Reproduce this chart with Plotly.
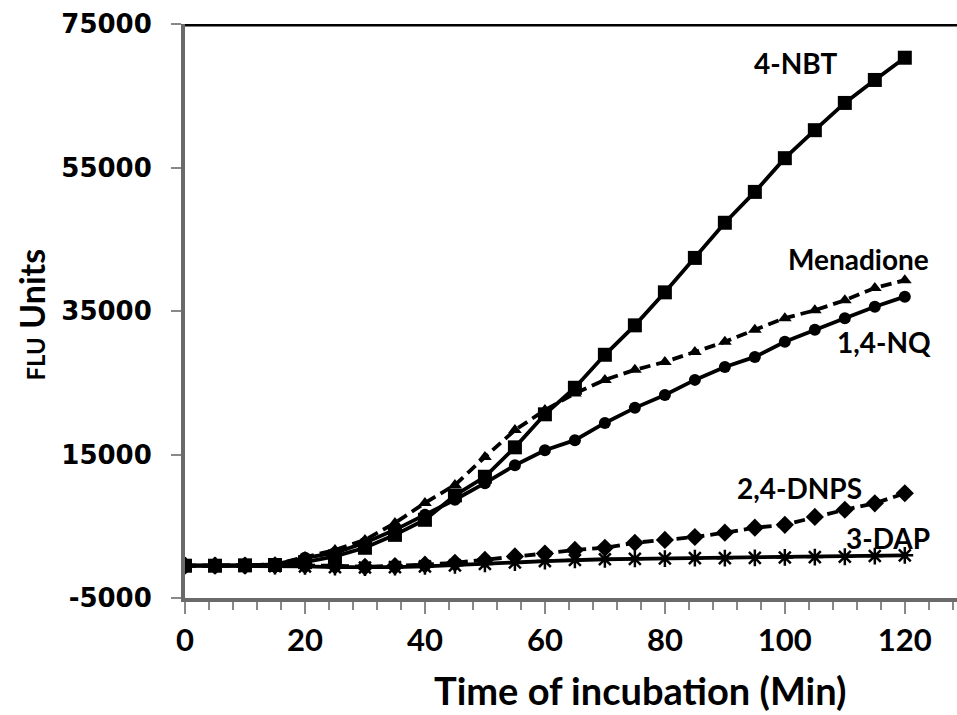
import plotly.graph_objects as go

time_min = [0, 5, 10, 15, 20, 25, 30, 35, 40, 45, 50, 55, 60, 65, 70, 75, 80, 85, 90, 95, 100, 105, 110, 115, 120]

nbt = [-500, -500, -450, -400, 0, 800, 2000, 3800, 5900, 9300, 11900, 16000, 20600, 24300, 28900,
       33000, 37600, 42400, 47300, 51600, 56300, 60200, 64000, 67200, 70300]
menadione = [-500, -500, -450, -300, 700, 1700, 3100, 5450, 8250, 10750, 14650, 18400, 21200, 23500,
             25400, 26800, 27900, 29300, 30700, 32400, 34000, 35100, 36500, 38200, 39300]
nq = [-500, -500, -450, -300, 600, 1300, 2700, 4500, 6600, 8700, 11000, 13500, 15600, 17000, 19400,
      21500, 23300, 25400, 27200, 28600, 30700, 32400, 34000, 35600, 37000]
dnps = [-500, -500, -500, -450, -450, -500, -650, -550, -350, -100, 300, 800, 1200, 1700, 2000,
        2700, 3100, 3500, 4100, 4800, 5200, 6300, 7300, 8200, 9600]
dap = [-500, -500, -500, -550, -600, -700, -750, -700, -600, -450, -250, -50, 150, 300, 400,
       450, 500, 550, 550, 600, 650, 700, 750, 850, 950]

y_ticks = [-5000, 15000, 35000, 55000, 75000]
x_ticks = [0, 20, 40, 60, 80, 100, 120]

series = [
    ("3-DAP", dap, "solid", "asterisk-open", 14),
    ("2,4-DNPS", dnps, "11px,6px", "diamond", 14),
    ("1,4-NQ", nq, "solid", "circle", 12),
    ("Menadione", menadione, "11px,6px", "triangle-up", 12),
    ("4-NBT", nbt, "solid", "square", 14),
]

fig = go.Figure()
for name, vals, dash, sym, size in series:
    mline = dict(width=2.5, color="#222") if sym == "asterisk-open" else dict(width=0)
    fig.add_trace(go.Scatter(
        x=time_min, y=vals, name=name, mode="lines+markers",
        line=dict(color="black", width=3.8, dash=dash),
        marker=dict(symbol=sym, size=size, color="black", line=mline),
        showlegend=False,
    ))

font_family = "Lato, Open Sans, sans-serif"
label_font = dict(family=font_family, size=28, color="black", weight="bold")
labels = [
    ("4-NBT", 101.8, 69500),
    ("Menadione", 112.3, 42200),
    ("1,4-NQ", 116.5, 30700),
    ("2,4-DNPS", 102.5, 10300),
    ("3-DAP", 117.2, 3300),
]
for text, x, y in labels:
    fig.add_annotation(x=x, y=y, text=text, showarrow=False, font=label_font,
                       xanchor="center", yanchor="middle")

# top border line
fig.add_shape(type="line", xref="paper", yref="y", x0=0, x1=1, y0=75000, y1=75000,
              line=dict(color="black", width=5))

# y-axis title
fig.add_annotation(xref="paper", yref="paper", x=-0.2, y=0.493, xanchor="center", yanchor="middle",
                   text="<span style='font-size:24px'>FLU</span> Units",
                   textangle=-90, showarrow=False,
                   font=dict(family=font_family, size=34, color="black", weight="bold"))

# x-axis title
fig.add_annotation(xref="paper", yref="paper", x=0.589, y=-0.16, xanchor="center", yanchor="middle",
                   text="Time of incubation (Min)", showarrow=False,
                   font=dict(family=font_family, size=38, color="black", weight="bold"))

fig.update_layout(
    width=957, height=715,
    margin=dict(l=185, r=0, t=24, b=117),
    paper_bgcolor="white", plot_bgcolor="white",
    xaxis=dict(
        range=[0, 128.7], tickvals=x_ticks, ticktext=[str(v) for v in x_ticks],
        showgrid=False, zeroline=False,
        showline=True, linecolor="#6a6a6a", linewidth=4,
        ticks="outside", ticklen=12, tickwidth=2, tickcolor="#888",
        minor=dict(dtick=4, tick0=0, ticks="outside", ticklen=8, tickwidth=2, tickcolor="#888"),
        tickfont=dict(family=font_family, size=31, color="black", weight="bold"),
    ),
    yaxis=dict(
        range=[-5000, 75000], tickvals=y_ticks, ticktext=[str(v) for v in y_ticks],
        showgrid=False, zeroline=False,
        showline=True, linecolor="#6a6a6a", linewidth=4,
        ticks="outside", ticklen=10, tickwidth=2, tickcolor="#888",
        tickfont=dict(family="DejaVu Sans, Verdana, sans-serif", size=26, color="black", weight="bold"),
        ticklabelstandoff=14,
    ),
)

fig.write_html("out.html")
